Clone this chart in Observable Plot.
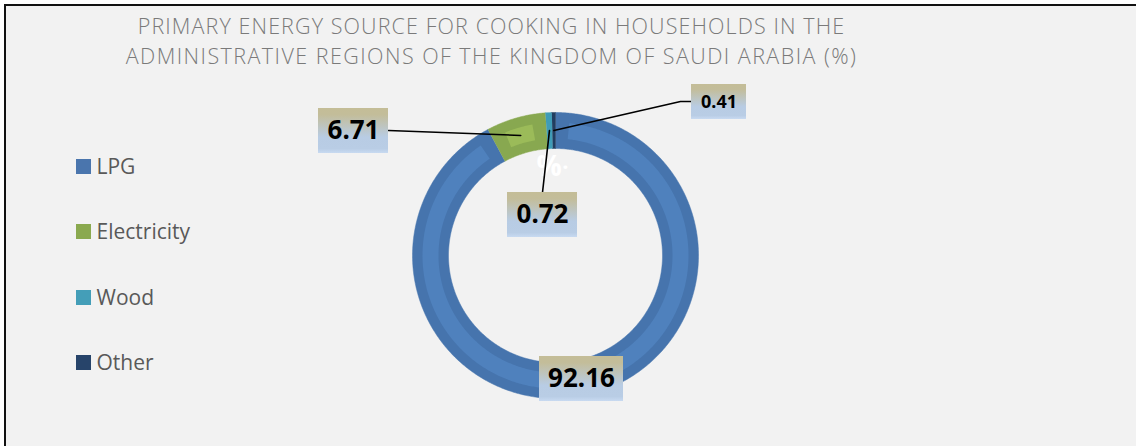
<!DOCTYPE html>
<html>
<head>
<meta charset="utf-8">
<script src="https://cdn.jsdelivr.net/npm/d3@7"></script>
<script src="https://cdn.jsdelivr.net/npm/@observablehq/plot@0.6"></script>
<style>
  html, body { margin: 0; padding: 0; background: #ffffff; }
  #wrap { position: relative; width: 1136px; height: 446px; overflow: hidden; }
  #frame { position: absolute; left: 4px; top: 4px; width: 1150px; height: 460px;
           border-top: 2px solid #111; border-left: 2px solid #111; background: #f2f2f2; }
  #chart { position: absolute; left: 0; top: 0; }
</style>
</head>
<body>
<div id="wrap"><div id="frame"></div><div id="chart"></div></div>
<script>
// ---- data ----
const titleLines = [
  "PRIMARY ENERGY SOURCE FOR COOKING IN HOUSEHOLDS IN THE",
  "ADMINISTRATIVE REGIONS OF THE KINGDOM OF SAUDI ARABIA (%)"
];
const categories = ["LPG", "Electricity", "Wood", "Other"];
const values = [92.16, 6.71, 0.72, 0.41];
const valueLabels = ["92.16", "6.71", "0.72", "0.41"];
const strayTexts = ["%", "·"];

// ---- layout & style ----
const CX = 555, CY = 255, R_OUT = 143, R_IN = 107, BEVEL = 10;
const darkColors  = ["#4674ad", "#88a850", "#3f9cb7", "#213d60"];
const lightColors = ["#4f81bd", "#9bbb59", "#4bacc6", "#2a4a76"];
const legendColors = ["#4a75ad", "#8aa94f", "#449eb8", "#27446a"];
const boxCX = [581, 353, 542, 718.5];
const boxCY = [378.5, 130.5, 214.5, 101.5];
const boxW  = [84, 70, 70, 55];
const boxH  = [45, 45, 45, 35];
const boxFont = [26, 26, 26, 18];
const leaderStarts = [null, [[388, 130]], [[542, 192]], [[691, 101], [680, 101]]];
const legendX = 76, legendSize = 15, legendY = [166.5, 231.5, 297.5, 362.5], legendTextX = 96;
const strayX = [548.5, 565], strayY = [167, 167], straySize = [28, 22];
const titleSpacing = ["1.1px", "1.45px"];

// ---- geometry from data ----
const arcs = d3.pie().sort(null).value(d => d)(values);
const pt = (a, r) => [CX + r * Math.sin(a), CY - r * Math.cos(a)];
function arcPoly(a0, a1, r0, r1, id, fill) {
  const n = Math.max(2, Math.ceil((a1 - a0) / 0.01));
  const pts = [];
  for (let i = 0; i <= n; i++) { const [x, y] = pt(a0 + (a1 - a0) * i / n, r1); pts.push({x, y, id, fill}); }
  for (let i = n; i >= 0; i--) { const [x, y] = pt(a0 + (a1 - a0) * i / n, r0); pts.push({x, y, id, fill}); }
  return pts;
}
const outerPts = [], innerPts = [];
const rMid = (R_OUT + R_IN) / 2;
arcs.forEach((a, i) => {
  outerPts.push(...arcPoly(a.startAngle, a.endAngle, R_IN, R_OUT, "o" + i, darkColors[i]));
  const inset = 13 / rMid;
  if (a.endAngle - a.startAngle - 2 * inset > 0)
    innerPts.push(...arcPoly(a.startAngle + inset, a.endAngle - inset, R_IN + BEVEL, R_OUT - BEVEL, "i" + i, lightColors[i]));
});
const leaderPts = [];
arcs.forEach((a, i) => {
  if (!leaderStarts[i]) return;
  const [ex, ey] = pt((a.startAngle + a.endAngle) / 2, rMid);
  leaderStarts[i].forEach(([x, y]) => leaderPts.push({x, y, id: i}));
  leaderPts.push({x: ex, y: ey, id: i});
});
const boxes = categories.map((c, i) => ({
  x1: boxCX[i] - boxW[i] / 2, x2: boxCX[i] + boxW[i] / 2,
  y1: boxCY[i] - boxH[i] / 2, y2: boxCY[i] + boxH[i] / 2,
  cx: boxCX[i], cy: boxCY[i], label: valueLabels[i], size: boxFont[i]
}));
const legend = categories.map((c, i) => ({
  name: c, color: legendColors[i],
  x1: legendX, x2: legendX + legendSize,
  y1: legendY[i] - legendSize / 2, y2: legendY[i] + legendSize / 2, ty: legendY[i]
}));
const titles = titleLines.map((t, i) => ({t, y: 27 + i * 30}));
const stray = strayTexts.map((t, i) => ({t, x: strayX[i], y: strayY[i], s: straySize[i]}));

const svg = Plot.plot({
  width: 1136, height: 446, margin: 0,
  x: {domain: [0, 1136], range: [0, 1136], axis: null},
  y: {domain: [0, 446], range: [0, 446], axis: null},
  color: {type: "identity"},
  style: {background: "transparent", fontFamily: "'Open Sans', sans-serif"},
  marks: [
    Plot.text(titles, {x: () => 491, y: "y", text: "t", fill: "#7a7a7a", fontSize: 21.5,
      fontWeight: 300, fontFamily: "'Open Sans', sans-serif"}),
    Plot.line(outerPts, {x: "x", y: "y", z: "id", fill: "fill", stroke: "fill", strokeWidth: 0.5}),
    Plot.line(innerPts, {x: "x", y: "y", z: "id", fill: "fill", stroke: null}),
    Plot.text(stray, {x: "x", y: "y", text: "t", fill: "#ffffff", fontSize: "s",
      fontWeight: "bold", fontFamily: "'Open Sans', sans-serif"}),
    Plot.line(leaderPts, {x: "x", y: "y", z: "id", stroke: "#000", strokeWidth: 1.6}),
    Plot.rect(boxes, {x1: "x1", x2: "x2", y1: "y1", y2: "y2", fill: "url(#lblGrad)"}),
    Plot.text(boxes, {x: "cx", y: "cy", text: "label", fontSize: "size", fontWeight: "bold",
      fill: "#000", fontFamily: "'Noto Sans', sans-serif"}),
    Plot.rect(legend, {x1: "x1", x2: "x2", y1: "y1", y2: "y2", fill: "color"}),
    Plot.text(legend, {x: () => legendTextX, y: "ty", text: "name", textAnchor: "start", fontSize: 21,
      fill: "#595959", fontFamily: "'Open Sans', sans-serif"})
  ]
});
const defs = document.createElementNS("http://www.w3.org/2000/svg", "defs");
defs.innerHTML = `<linearGradient id="lblGrad" x1="0" y1="0" x2="0" y2="1">
  <stop offset="0" stop-color="#c4bd97"/><stop offset="0.15" stop-color="#c3bd9a"/>
  <stop offset="0.65" stop-color="#b8cce4"/><stop offset="0.9" stop-color="#b9cde5"/>
  <stop offset="1" stop-color="#c8daf1"/></linearGradient>`;
svg.insertBefore(defs, svg.firstChild);
svg.querySelectorAll("text").forEach(t => {
  const k = titleLines.indexOf(t.textContent);
  if (k >= 0) t.style.letterSpacing = titleSpacing[k];
});
document.getElementById("chart").appendChild(svg);
</script>
</body>
</html>
